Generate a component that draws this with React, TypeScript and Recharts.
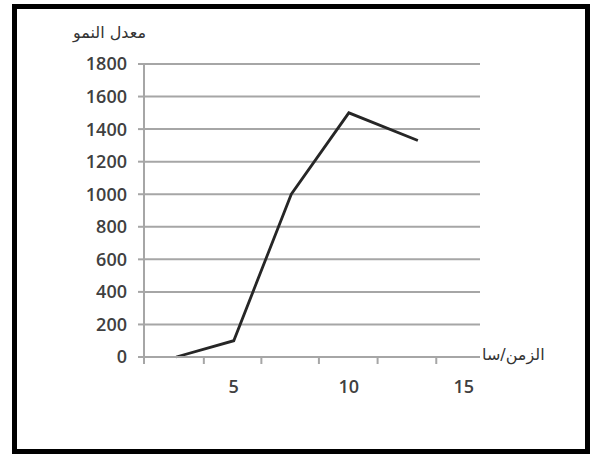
import React from 'react'
import { LineChart, Line, XAxis, YAxis, CartesianGrid } from 'recharts'

// الزمن (ساعة) و معدل النمو
const hours = [2.5, 5, 7.5, 10, 13]
const growth = [0, 100, 1000, 1500, 1330]

const yTicks = [0, 200, 400, 600, 800, 1000, 1200, 1400, 1600, 1800]
const xLabels = [5, 10, 15]
const xMarks = [1.1, 3.7, 6.2, 8.7, 11.25, 13.8]
const xDomain = [1.1, 15.7]

const yTitle = 'معدل النمو'
const xTitle = 'الزمن/سا'

const data = hours.map((h, i) => ({ hour: h, growth: growth[i] }))

const axisColor = '#a6a6a6'
const textColor = '#404040'
const numFont = '"Open Sans", "DejaVu Sans", sans-serif'
const arFont = '"DejaVu Sans", sans-serif'

const XTick = (props: any) => {
  const { x, y, payload } = props
  if (xLabels.includes(payload.value)) {
    return (
      <text x={x} y={y + 36} textAnchor="middle" fill={textColor} fontSize={18} fontWeight={600} fontFamily={numFont}>
        {payload.value}
      </text>
    )
  }
  return <line x1={x} y1={y} x2={x} y2={y + 7} stroke={axisColor} strokeWidth={2} />
}

export default function App() {
  return (
    <div style={{ position: 'absolute', left: 0, top: 0, width: 596, height: 457, background: '#fff' }}>
      <LineChart width={596} height={457} data={data} margin={{ top: 64, right: 116, bottom: 60, left: 0 }}>
        <CartesianGrid vertical={false} stroke={axisColor} strokeWidth={2} />
        <XAxis
          dataKey="hour"
          type="number"
          domain={xDomain}
          ticks={[...xMarks, ...xLabels].sort((a, b) => a - b)}
          interval={0}
          tickLine={false}
          tickSize={0}
          tickMargin={0}
          height={40}
          axisLine={{ stroke: axisColor, strokeWidth: 2 }}
          tick={<XTick />}
          allowDataOverflow
        />
        <YAxis
          type="number"
          domain={[0, 1800]}
          ticks={yTicks}
          interval={0}
          width={144}
          tickSize={6}
          tickMargin={11}
          tickLine={{ stroke: axisColor, strokeWidth: 2 }}
          axisLine={{ stroke: axisColor, strokeWidth: 2 }}
          tick={{ fill: textColor, fontSize: 18, fontWeight: 600, fontFamily: numFont }}
        />
        <Line
          type="linear"
          dataKey="growth"
          stroke="#262626"
          strokeWidth={2.8}
          dot={false}
          isAnimationActive={false}
        />
      </LineChart>
      <div
        dir="rtl"
        style={{ position: 'absolute', left: 60, top: 23, width: 86, textAlign: 'right', fontFamily: arFont, fontSize: 16, color: '#333' }}
      >
        {yTitle}
      </div>
      <div
        dir="rtl"
        style={{ position: 'absolute', left: 482, top: 345, width: 80, textAlign: 'left', fontFamily: arFont, fontSize: 16, color: '#333' }}
      >
        {xTitle}
      </div>
      <div
        style={{ position: 'absolute', left: 12, top: 4, width: 578, height: 450, boxSizing: 'border-box', border: '5px solid #000', pointerEvents: 'none' }}
      />
    </div>
  )
}
